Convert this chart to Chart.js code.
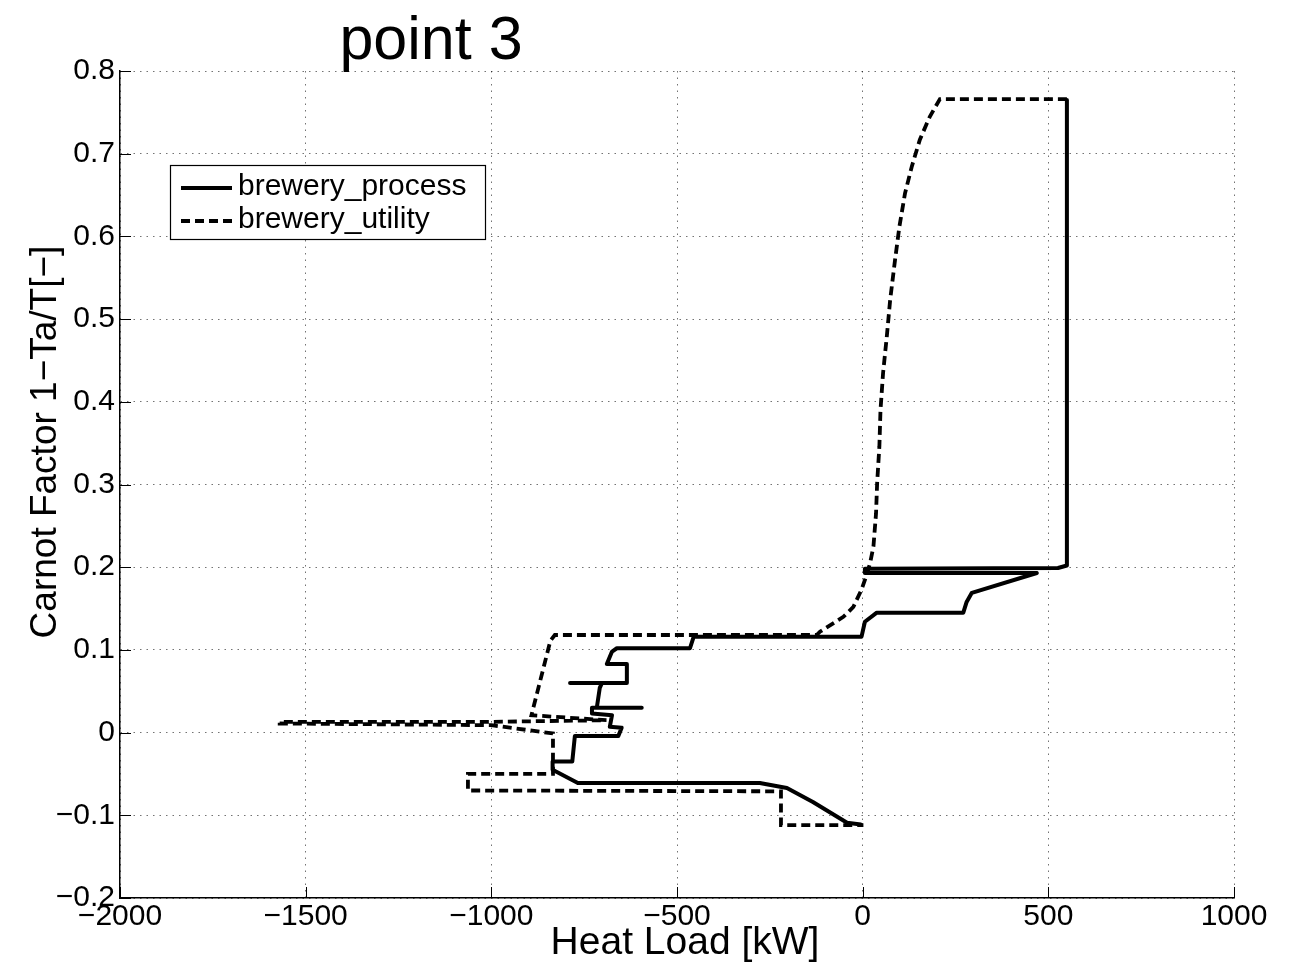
<!DOCTYPE html>
<html>
<head>
<meta charset="utf-8">
<script src="https://cdn.jsdelivr.net/npm/chart.js@4.4.1/dist/chart.umd.min.js"></script>
<style>
  html, body { margin: 0; padding: 0; background: #fff; }
  #wrap { width: 1306px; height: 967px; position: relative; }
</style>
</head>
<body>
<div id="wrap"><canvas id="c" width="1306" height="967"></canvas></div>
<script>
// ---- data ----
const chartTitle = "point 3";
const xAxisTitle = "Heat Load [kW]";
const yAxisTitle = "Carnot Factor 1\u2212Ta/T[\u2212]";
const seriesNames = ["brewery_process", "brewery_utility"];

const xTickLabels = ["\u22122000", "\u22121500", "\u22121000", "\u2212500", "0", "500", "1000"];
const yTickLabels = ["\u22120.2", "\u22120.1", "0", "0.1", "0.2", "0.3", "0.4", "0.5", "0.6", "0.7", "0.8"];

const processLoad = [-5, -42, -134, -204, -277, -767, -835, -835, -782, -775, -658, -649, -681, -675, -729, -729, -595, -716, -708, -702, -788, -635, -635, -689, -675, -662, -465, -455, -3, 6, 38, 271, 280, 294, 469, 6, 6, 526, 550, 550];
const processCarnot = [-0.111, -0.109, -0.084, -0.067, -0.061, -0.061, -0.045, -0.035, -0.035, -0.004, -0.004, 0.006, 0.007, 0.021, 0.023, 0.030, 0.030, 0.030, 0.054, 0.060, 0.060, 0.060, 0.083, 0.083, 0.098, 0.102, 0.102, 0.116, 0.116, 0.134, 0.145, 0.145, 0.158, 0.169, 0.193, 0.193, 0.198, 0.199, 0.202, 0.765];

const utilityLoad = [550, 208, 181, 154, 132, 114, 99, 87, 74, 65, 55, 48, 45, 39, 36, 29, 20, 11, -3, -25, -52, -115, -124, -829, -841, -892, -690, -1000, -1570, -1570, -1000, -834, -834, -1063, -1063, -220, -220, 2];
const utilityCarnot = [0.766, 0.766, 0.745, 0.717, 0.684, 0.652, 0.612, 0.571, 0.523, 0.479, 0.435, 0.390, 0.346, 0.302, 0.265, 0.225, 0.205, 0.191, 0.173, 0.152, 0.140, 0.122, 0.118, 0.118, 0.111, 0.021, 0.015, 0.013, 0.013, 0.011, 0.009, -0.001, -0.050, -0.050, -0.070, -0.071, -0.112, -0.112];

const xMin = -2000, xMax = 1000, xStep = 500;
const yMin = -0.2, yMax = 0.8, yStep = 0.1;

// ---- build ----
const toPoints = (xs, ys) => xs.map((x, i) => ({ x: x, y: ys[i] }));
const FONT = "'Liberation Sans', Helvetica, Arial, sans-serif";

const textPlugin = {
  id: 'mtexts',
  afterDraw(chart) {
    const ctx = chart.ctx;
    ctx.save();
    ctx.fillStyle = '#000';
    ctx.textAlign = 'center';
    ctx.textBaseline = 'alphabetic';
    ctx.font = "61px " + FONT;
    ctx.fillText(chartTitle, 431, 59);
    ctx.font = "39px " + FONT;
    ctx.textBaseline = 'middle';
    ctx.fillText(xAxisTitle, 685, 943);
    ctx.translate(46, 442);
    ctx.rotate(-Math.PI / 2);
    ctx.font = "37px " + FONT;
    ctx.fillText(yAxisTitle, 0, 0);
    ctx.restore();
  }
};

const innerTicks = {
  id: 'innerTicks',
  afterDatasetsDraw(chart) {
    const ctx = chart.ctx;
    const xs = chart.scales.x, ys = chart.scales.y;
    const a = chart.chartArea;
    ctx.save();
    ctx.strokeStyle = '#000';
    ctx.lineWidth = 1;
    ctx.beginPath();
    xs.ticks.forEach(t => {
      const px = Math.round(xs.getPixelForValue(t.value)) + 0.5;
      ctx.moveTo(px, a.bottom); ctx.lineTo(px, a.bottom - 11);
    });
    ys.ticks.forEach(t => {
      const py = Math.round(ys.getPixelForValue(t.value)) + 0.5;
      ctx.moveTo(a.left, py); ctx.lineTo(a.left + 11, py);
    });
    ctx.stroke();
    ctx.restore();
  }
};

const legendPlugin = {
  id: 'mlegend',
  afterDatasetsDraw(chart) {
    const ctx = chart.ctx;
    ctx.save();
    ctx.fillStyle = '#fff';
    ctx.fillRect(170, 165, 315, 74);
    ctx.strokeStyle = '#000';
    ctx.lineWidth = 1.2;
    ctx.strokeRect(170.5, 165.5, 315, 74);
    ctx.lineWidth = 4;
    ctx.lineCap = 'butt';
    ctx.beginPath(); ctx.moveTo(181, 188); ctx.lineTo(232, 188); ctx.stroke();
    ctx.setLineDash([9, 5]);
    ctx.beginPath(); ctx.moveTo(181, 221); ctx.lineTo(232, 221); ctx.stroke();
    ctx.setLineDash([]);
    ctx.fillStyle = '#000';
    ctx.font = "30px " + FONT;
    ctx.textAlign = 'left';
    ctx.textBaseline = 'middle';
    ctx.fillText(seriesNames[0], 238, 187);
    ctx.fillText(seriesNames[1], 238, 220);
    ctx.restore();
  }
};

const gridColor = 'rgba(0,0,0,0.55)';

new Chart(document.getElementById('c'), {
  type: 'line',
  data: {
    datasets: [
      {
        label: seriesNames[0],
        data: toPoints(processLoad, processCarnot),
        borderColor: '#000',
        borderWidth: 4,
        pointRadius: 0,
        tension: 0,
        fill: false,
        borderJoinStyle: 'round',
        borderCapStyle: 'round',
        order: 1
      },
      {
        label: seriesNames[1],
        data: toPoints(utilityLoad, utilityCarnot),
        borderColor: '#000',
        borderWidth: 3.8,
        borderDash: [9, 5],
        pointRadius: 0,
        tension: 0,
        fill: false,
        borderJoinStyle: 'miter',
        borderCapStyle: 'butt',
        order: 0
      }
    ]
  },
  options: {
    responsive: false,
    animation: false,
    layout: { padding: { left: 0, top: 71, right: 72, bottom: 0 } },
    plugins: {
      legend: { display: false },
      title: { display: false },
      tooltip: { enabled: false }
    },
    scales: {
      x: {
        type: 'linear',
        min: xMin, max: xMax,
        afterFit(s) { s.height = 69; },
        ticks: {
          stepSize: xStep,
          padding: 1,
          color: '#000',
          font: { family: FONT, size: 30 },
          maxRotation: 0,
          autoSkip: false,
          callback: (v, i) => xTickLabels[i]
        },
        grid: { color: gridColor, lineWidth: 1, drawTicks: false },
        border: { display: true, color: '#000', width: 1.5, dash: [1.5, 5] },
        title: { display: false }
      },
      y: {
        type: 'linear',
        min: yMin, max: yMax,
        afterFit(s) { s.width = 120; },
        ticks: {
          stepSize: yStep,
          padding: 5,
          color: '#000',
          font: { family: FONT, size: 30 },
          autoSkip: false,
          callback: (v, i) => yTickLabels[i]
        },
        grid: { color: gridColor, lineWidth: 1, drawTicks: false },
        border: { display: true, color: '#000', width: 1.5, dash: [1.5, 5] },
        title: { display: false }
      }
    }
  },
  plugins: [textPlugin, innerTicks, legendPlugin]
});
</script>
</body>
</html>
